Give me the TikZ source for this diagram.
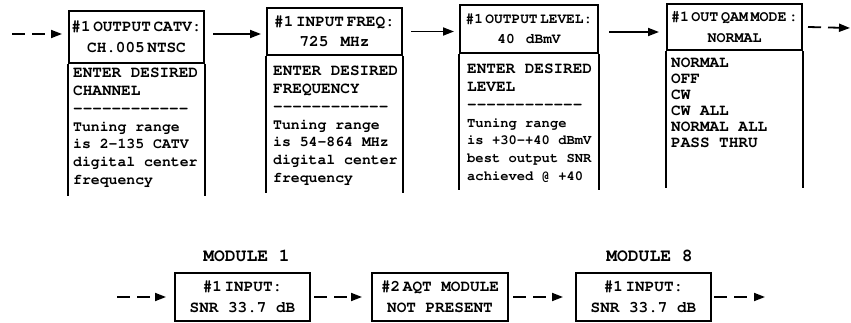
\documentclass[tikz,border=0pt]{standalone}
\usepackage[T1]{fontenc}
\usepackage{courier}
\usetikzlibrary{arrows.meta,positioning}
% typewriter faces for the menu screens
\newcommand\hdrfont[1]{\ttfamily\bfseries\fontsize{#1}{20.5}\selectfont}
\newcommand\lowtext[1]{\ttfamily\bfseries\fontsize{#1}{17.8}\selectfont}
\newcommand\captext{\fontsize{16}{17.8}\selectfont}
\newcommand\listtext{\ttfamily\bfseries\fontsize{16}{16}\selectfont}
\newcommand\dashline{-{}-{}-{}-{}-{}-{}-{}-{}-{}-{}-{}-}
\tikzset{
  hdr/.style={draw=black, line width=2pt, inner sep=0pt, minimum width=135pt, align=center, font=\hdrfont{#1}},
  hdr/.default=16,
  scrtxt/.style={inner sep=0pt, anchor=north west, align=left, font=\lowtext{#1}},
  scrtxt/.default=14.8,
  scrwall/.style={draw=black, line width=2pt},
  arr/.style={-{Triangle[length=11pt,width=8pt]}, line width=1.8pt, draw=black},
  darr/.style={arr, dash pattern=on 13pt off 7pt},
  modbox/.style={hdr, minimum height=48pt},
  modlbl/.style={inner sep=0pt, font=\hdrfont{18}},
}
\begin{document}
\begin{tikzpicture}[x=1pt, y=1pt]
  \useasboundingbox (0,0) rectangle (851,-323);
  % menu screens, top row
  \node[hdr, minimum height=52pt] (h1) at (136.5,-37) {\#1\,OUTPUT\,CATV:\\CH.005\,NTSC};
  \node[hdr, minimum height=47pt] (h2) at (334.5,-31.5) {\#1\,INPUT\,FREQ:\\725~\,MHz};
  \node[hdr=14.5, minimum width=138pt, minimum height=48pt] (h3) at (529,-29) {\#1\,OUTPUT\,LEVEL:\\40~\,dBmV};
  \node[hdr=15, minimum height=46pt] (h4) at (734.5,-27) {\#1\,OUT\,QAM\,MODE\,:\\NORMAL};
  \foreach \n/\len in {h1/132,h2/137,h3/136,h4/137}
    \draw[scrwall] (\n.south west) -- ++(0,-\len) (\n.south east) -- ++(0,-\len);
  \node[scrtxt] (t1) at ([shift={(5pt,-4pt)}]h1.south west)
    {{\captext ENTER DESIRED}\\{\captext CHANNEL}\\{\captext\dashline}\\Tuning range\\is 2-135 CATV\\digital center\\frequency};
  \node[scrtxt] (t2) at ([shift={(7pt,-10pt)}]h2.south west)
    {{\captext ENTER DESIRED}\\{\captext FREQUENCY}\\{\captext\dashline}\\Tuning range\\is 54-864 MHz\\digital center\\frequency};
  \node[scrtxt=13.8] (t3) at ([shift={(8pt,-10pt)}]h3.south west)
    {{\captext ENTER DESIRED}\\{\captext LEVEL}\\{\captext\dashline}\\Tuning range\\is +30-+40 dBmV\\best output SNR\\achieved @ +40};
  \node[scrtxt, font=\listtext] (t4) at ([shift={(5pt,-7pt)}]h4.south west)
    {NORMAL\\OFF\\CW\\CW ALL\\NORMAL ALL\\PASS THRU};
  \coordinate (in1) at (12,-34);
  \coordinate (out1) at (850,-28);
  \draw[darr] (in1) -- ([xshift=-6pt,yshift=3pt]h1.west);
  \draw[arr] ([xshift=8pt,yshift=3pt]h1.east) -- ([xshift=-5pt,yshift=3pt]h1.east -| h2.west);
  \draw[arr] ([xshift=8pt]h2.east) -- ([xshift=-5pt]h2.east -| h3.west);
  \draw[arr] ([xshift=10pt,yshift=-3pt]h3.east) -- ([xshift=-7pt,yshift=-3pt]h3.east -| h4.west);
  \draw[darr] ([xshift=5pt]h4.east) -- (out1);
  % module chain, bottom row
  \node[modbox] (m1) at (242.5,-297) {\#1\,INPUT:\\SNR 33.7 dB};
  \node[modbox, minimum width=136pt, right=60pt of m1] (aqt) {\#2\,AQT MODULE\\NOT PRESENT};
  \node[modbox, right=66pt of aqt] (m8) {\#1\,INPUT:\\SNR 33.7 dB};
  \node[modlbl, above=10pt of m1, xshift=4pt] (lbl1) {MODULE 1};
  \node[modlbl, above=10pt of m8, xshift=6pt] (lbl8) {MODULE 8};
  \coordinate (in2) at (117,-297);
  \coordinate (out2) at (765,-297);
  \draw[darr] (in2) -- ([xshift=-8pt]m1.west);
  \draw[darr] ([xshift=3pt]m1.east) -- ([xshift=-9pt]aqt.west);
  \draw[darr] ([xshift=4pt]aqt.east) -- ([xshift=-12pt]m8.west);
  \draw[darr] ([xshift=2pt]m8.east) -- (out2);
\end{tikzpicture}
\end{document}
